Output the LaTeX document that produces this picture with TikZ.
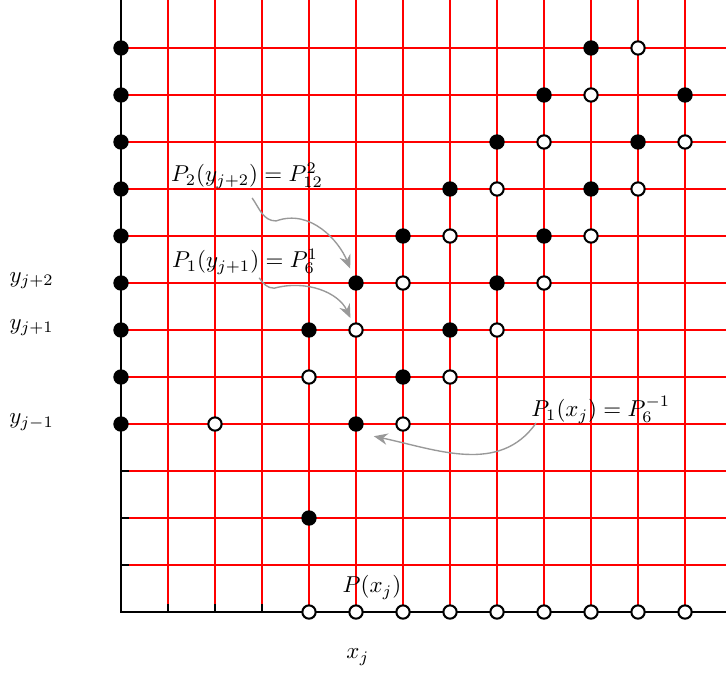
\documentclass[tikz,border=0pt]{standalone}
\usetikzlibrary{arrows.meta}
\definecolor{arrowgray}{gray}{0.6}
\begin{document}
\begin{tikzpicture}[x=0.72cm,y=0.72cm,
  gridline/.style={red, line width=0.5pt},
  axisline/.style={black, line width=0.9pt},
  fdot/.style={circle, fill=black, inner sep=0pt, minimum size=6.7pt},
  odot/.style={circle, draw=black, fill=white, line width=0.9pt, inner sep=0pt, minimum size=5.8pt},
  garrow/.style={arrowgray, line width=0.6pt, -{Stealth[length=6pt,width=5pt,inset=2pt]}}
]
\useasboundingbox (-2.574,-1.383) rectangle (12.872,13.021);
% grid
\foreach \i in {1,...,12} \draw[gridline] (\i,0) -- (\i,13.021);
\foreach \j in {1,...,12} \draw[gridline] (0,\j) -- (12.872,\j);
% axes
\draw[axisline] (0,13.021) -- (0,0) -- (12.872,0);
\foreach \i in {1,2,3} \draw[axisline] (\i,0) -- (\i,0.17);
\foreach \j in {1,2,3} \draw[axisline] (0,\j) -- (0.17,\j);
% dots
\foreach \j in {4,...,12} \node[fdot] (y-\j) at (0,\j) {};
\foreach \i in {4,...,12} \node[odot] (x-\i) at (\i,0) {};
\foreach \i/\j in {5/4,4/2,6/5,4/6,7/6,5/7,8/7,6/8,9/8,7/9,10/9,8/10,11/10,9/11,12/11,10/12}
  \node[fdot] (f-\i-\j) at (\i,\j) {};
\foreach \i/\j in {2/4,6/4,4/5,7/5,5/6,8/6,6/7,9/7,7/8,10/8,8/9,11/9,9/10,12/10,10/11,11/12}
  \node[odot] (o-\i-\j) at (\i,\j) {};
% labels
\node (ly2) at (-1.9,7.05) {$y_{j+2}$};
\node (ly1) at (-1.9,6.05) {$y_{j+1}$};
\node (lym) at (-1.9,4.04) {$y_{j-1}$};
\node (lxj) at (5.04,-0.96) {$x_j$};
\node (lpx) at (5.34,0.52) {$P(x_j)$};
\node (lp2) at (2.68,9.28) {$P_2(y_{j+2})=P_{12}^2$};
\node (lp1) at (2.64,7.45) {$P_1(y_{j+1})=P_6^1$};
\node (lp1x) at (10.21,4.30) {$P_1(x_j)=P_6^{-1}$};
% arrows
\coordinate (s1) at (2.79,8.81);
\coordinate (w1) at (3.3,8.32);
\coordinate (s2) at (2.94,7.11);
\coordinate (w2) at (3.26,6.89);
\coordinate (s3) at (8.83,4.02);
\coordinate (e3) at (5.38,3.74);
\draw[garrow, shorten >=3.2pt] (s1) to[out=-55,in=180] (w1) to[out=20,in=112] (f-5-7);
\draw[garrow, shorten >=2.4pt] (s2) to[out=-55,in=180] (w2) to[out=15,in=115] (o-5-6);
\draw[garrow] (s3) to[out=-125,in=-12] (e3);
\end{tikzpicture}
\end{document}
